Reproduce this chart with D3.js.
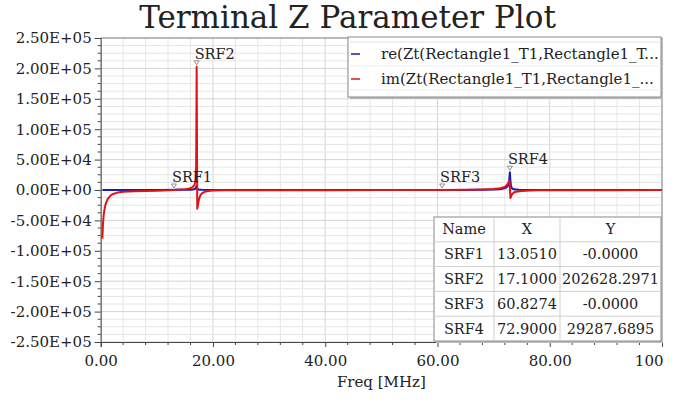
<!DOCTYPE html>
<html>
<head>
<meta charset="utf-8">
<script src="https://cdn.jsdelivr.net/npm/d3@7"></script>
<style>
  html, body { margin: 0; padding: 0; background: #fff; }
  svg { display: block; }
  text { font-family: "DejaVu Serif", "Liberation Serif", serif; fill: #222; }
</style>
</head>
<body>
<svg id="chart" width="695" height="402"></svg>
<script>
// Frequency sweep, MHz
const imFreq = [0.3, 0.4, 0.5, 0.6, 0.8, 1.0, 1.3, 1.7, 2.2, 3, 4, 5, 6, 8, 10, 12, 13.051, 14, 15, 15.8, 16.3, 16.7, 16.9, 17.0, 17.1, 17.2, 17.3, 17.45, 17.6, 17.8, 18.1, 18.5, 19.2, 20, 22, 25, 30, 40, 50, 60.8274, 65, 68, 70, 71.2, 72, 72.4, 72.7, 72.8, 72.9, 73.0, 73.1, 73.3, 73.6, 74, 75, 76.5, 78, 80, 85, 90, 100];
// im(Zt) in ohms
const imVals = [-80000, -57000, -44000, -36000, -26000, -20000, -14000, -9500, -6500, -4300, -3000, -2400, -2000, -1500, -1100, -600, 0, 700, 1400, 2600, 4200, 8000, 16000, 40000, 202628.2971, -31000, -26000, -18000, -12500, -8000, -5000, -3000, -1600, -1000, -600, -450, -350, -250, -150, 0, 300, 800, 1500, 2800, 5000, 8500, 13000, 15500, 3000, -13000, -11000, -7000, -4200, -2800, -1600, -900, -600, -450, -350, -280, -200];

const reFreq = [0.3, 5, 10, 14, 16, 16.6, 16.9, 17.0, 17.1, 17.2, 17.4, 18, 20, 30, 50, 65, 70, 71.5, 72.2, 72.5, 72.7, 72.8, 72.9, 73.0, 73.1, 73.3, 73.6, 74.5, 76, 80, 90, 100];
// re(Zt) in ohms
const reVals = [200, 150, 200, 300, 600, 1200, 2500, 5000, 7000, 2500, 900, 300, 0, -100, -50, 100, 900, 1800, 3500, 6000, 11000, 18000, 29287.6895, 14000, 6000, 2600, 1200, 500, 0, -200, -200, -150];

// Self-resonant frequency markers
const srfNames = ["SRF1", "SRF2", "SRF3", "SRF4"];
const srfX = [13.0510, 17.1000, 60.8274, 72.9000];
const srfY = [-0.0000, 202628.2971, -0.0000, 29287.6895];

const seriesNames = ["re(Zt(Rectangle1_T1,Rectangle1_T...", "im(Zt(Rectangle1_T1,Rectangle1_..."];
const seriesColors = ["#1a1ab4", "#e01414"];

const xTicks = [0, 20, 40, 60, 80, 100];
const xTickLabels = ["0.00", "20.00", "40.00", "60.00", "80.00", "100"];
const yTicks = [-250000, -200000, -150000, -100000, -50000, 0, 50000, 100000, 150000, 200000, 250000];

const svg = d3.select("#chart");
const plot = { left: 100.7, right: 662, top: 38, bottom: 342 };

const x = d3.scaleLinear().domain([0, 100]).range([plot.left, plot.right]);
const y = d3.scaleLinear().domain([-250000, 250000]).range([plot.bottom, plot.top]);

function sciLabel(v) {
  const s = (v === 0 ? 0 : v).toExponential(2);
  const [m, e] = s.split("e");
  const sign = e[0] === "-" ? "-" : "+";
  const digits = e.replace(/[+-]/, "").padStart(2, "0");
  return m + "E" + sign + digits;
}

// Grid: minor then major
const xMinor = d3.range(0, 100.001, 4);
const yMinor = d3.range(-250000, 250001, 12500);
const grid = svg.append("g");
grid.selectAll(".gx").data(xMinor).join("line")
  .attr("x1", d => x(d)).attr("x2", d => x(d))
  .attr("y1", plot.top).attr("y2", plot.bottom)
  .attr("stroke", d => d % 20 === 0 ? "#d4d4d4" : "#e6e6e6").attr("stroke-width", 1);
grid.selectAll(".gy").data(yMinor).join("line")
  .attr("x1", plot.left).attr("x2", plot.right)
  .attr("y1", d => y(d)).attr("y2", d => y(d))
  .attr("stroke", d => d % 50000 === 0 ? "#d4d4d4" : "#e6e6e6").attr("stroke-width", 1);

// Frame
svg.append("line").attr("x1", plot.left).attr("x2", plot.right).attr("y1", plot.top).attr("y2", plot.top)
  .attr("stroke", "#8a8a8a");
svg.append("line").attr("x1", plot.right).attr("x2", plot.right).attr("y1", plot.top).attr("y2", plot.bottom)
  .attr("stroke", "#8a8a8a");

// Axes
const xAxis = d3.axisBottom(x).tickValues(xTicks).tickFormat((d, i) => xTickLabels[i]).tickSize(5).tickPadding(8);
const yAxis = d3.axisLeft(y).tickValues(yTicks).tickFormat(sciLabel).tickSize(6).tickPadding(3);

const gx = svg.append("g").attr("transform", `translate(0,${plot.bottom})`).call(xAxis);
const gy = svg.append("g").attr("transform", `translate(${plot.left},0)`).call(yAxis);
[gx, gy].forEach(g => {
  g.select(".domain").attr("stroke", "#444");
  g.selectAll(".tick line").attr("stroke", "#444");
  g.selectAll("text").attr("font-family", "DejaVu Serif").attr("font-size", 15).attr("fill", "#222");
});
gx.selectAll(".tick text").filter(d => d === 100).attr("text-anchor", "end").attr("dx", 1);

// Minor ticks
svg.append("g").selectAll("line").data(xMinor.filter(d => d % 20 !== 0)).join("line")
  .attr("x1", d => x(d)).attr("x2", d => x(d)).attr("y1", plot.bottom).attr("y2", plot.bottom + 3)
  .attr("stroke", "#444");
svg.append("g").selectAll("line").data(yMinor.filter(d => d % 50000 !== 0)).join("line")
  .attr("x1", plot.left - 3).attr("x2", plot.left).attr("y1", d => y(d)).attr("y2", d => y(d))
  .attr("stroke", "#444");

// Curves
const line = d3.line().x(d => x(d[0])).y(d => y(d[1]));
svg.append("clipPath").attr("id", "clip").append("rect")
  .attr("x", plot.left).attr("y", plot.top).attr("width", plot.right - plot.left).attr("height", plot.bottom - plot.top);
const curves = svg.append("g").attr("clip-path", "url(#clip)");
curves.append("path").datum(d3.zip(reFreq, reVals)).attr("d", line)
  .attr("fill", "none").attr("stroke", seriesColors[0]).attr("stroke-width", 2).attr("stroke-linejoin", "round");
curves.append("path").datum(d3.zip(imFreq, imVals)).attr("d", line)
  .attr("fill", "none").attr("stroke", seriesColors[1]).attr("stroke-width", 2).attr("stroke-linejoin", "round");

// Markers
const mk = svg.append("g");
srfNames.forEach((n, i) => {
  const px = x(srfX[i]), py = y(srfY[i]);
  mk.append("path").attr("d", `M${px - 2.5},${py - 6}L${px + 2.5},${py - 6}L${px},${py - 2}Z`)
    .attr("fill", "#fff").attr("stroke", "#777").attr("stroke-width", 0.8);
  mk.append("text").attr("x", px - 2).attr("y", py - 8).attr("font-size", 14.5).text(n);
});

// Legend
const lg = svg.append("g");
lg.append("rect").attr("x", 350).attr("y", 39).attr("width", 313).attr("height", 60).attr("fill", "#bdbdbd");
lg.append("rect").attr("x", 348).attr("y", 37).attr("width", 313).attr("height", 60)
  .attr("fill", "#fff").attr("stroke", "#8a8a8a");
lg.append("line").attr("x1", 348).attr("x2", 661).attr("y1", 42).attr("y2", 42).attr("stroke", "#e2e2e2");
lg.append("line").attr("x1", 348).attr("x2", 661).attr("y1", 66).attr("y2", 66).attr("stroke", "#ececec");
lg.append("line").attr("x1", 348).attr("x2", 661).attr("y1", 90).attr("y2", 90).attr("stroke", "#ececec");
seriesNames.forEach((n, i) => {
  const cy = 54 + i * 25;
  lg.append("line").attr("x1", 351).attr("x2", 360).attr("y1", cy).attr("y2", cy)
    .attr("stroke", seriesColors[i]).attr("stroke-width", 1.5);
  lg.append("text").attr("x", 381).attr("y", cy + 5).attr("font-size", 15).text(n);
});

// Marker table
const tb = svg.append("g");
const tX = 434, tY = 217, rowH = 24.8;
const colX = [434, 494, 560, 661];
tb.append("rect").attr("x", tX + 2).attr("y", tY + 2).attr("width", colX[3] - tX).attr("height", rowH * 5).attr("fill", "#bdbdbd");
tb.append("rect").attr("x", tX).attr("y", tY).attr("width", colX[3] - tX).attr("height", rowH * 5)
  .attr("fill", "#fff").attr("stroke", "#8a8a8a");
for (let r = 1; r < 5; r++) {
  tb.append("line").attr("x1", tX).attr("x2", colX[3]).attr("y1", tY + r * rowH).attr("y2", tY + r * rowH).attr("stroke", "#cfcfcf");
}
[colX[1], colX[2]].forEach(cx => tb.append("line").attr("x1", cx).attr("x2", cx).attr("y1", tY).attr("y2", tY + rowH * 5).attr("stroke", "#cfcfcf"));
const rows = [["Name", "X", "Y"]].concat(srfNames.map((n, i) => [n, srfX[i].toFixed(4), srfY[i] === 0 ? "-0.0000" : srfY[i].toFixed(4)]));
rows.forEach((r, ri) => {
  r.forEach((c, ci) => {
    tb.append("text").attr("x", (colX[ci] + colX[ci + 1]) / 2).attr("y", tY + ri * rowH + rowH / 2 + 5)
      .attr("text-anchor", "middle").attr("font-size", 14.5).text(c);
  });
});

// Titles
svg.append("text").attr("x", 347.5).attr("y", 28).attr("text-anchor", "middle").attr("font-size", 31).text("Terminal Z Parameter Plot");
svg.append("text").attr("x", (plot.left + plot.right) / 2).attr("y", 387).attr("text-anchor", "middle").attr("font-size", 15).text("Freq [MHz]");
</script>
</body>
</html>
